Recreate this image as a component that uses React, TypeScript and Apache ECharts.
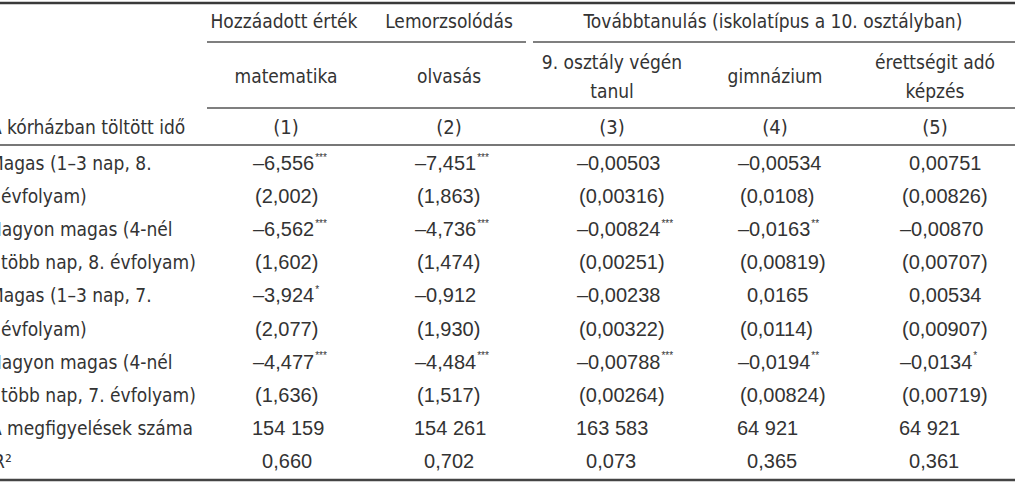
import React, { useEffect, useRef } from "react";
import * as echarts from "echarts";

// ---------- data ----------
const groupHeaders = ["Hozzáadott érték", "Lemorzsolódás", "Továbbtanulás (iskolatípus a 10. osztályban)"];
const subHeaders = [["matematika"], ["olvasás"], ["9. osztály végén", "tanul"], ["gimnázium"], ["érettségit adó", "képzés"]];
const columnNumbers = ["(1)", "(2)", "(3)", "(4)", "(5)"];
const stubTitle = "A kórházban töltött idő";
const rowLabels = [
  ["Magas (1–3 nap, 8.", "évfolyam)"],
  ["Nagyon magas (4-nél", "több nap, 8. évfolyam)"],
  ["Magas (1–3 nap, 7.", "évfolyam)"],
  ["Nagyon magas (4-nél", "több nap, 7. évfolyam)"],
];
const coefficients = [
  ["–6,556", "–7,451", "–0,00503", "–0,00534", "0,00751"],
  ["–6,562", "–4,736", "–0,00824", "–0,0163", "–0,00870"],
  ["–3,924", "–0,912", "–0,00238", "0,0165", "0,00534"],
  ["–4,477", "–4,484", "–0,00788", "–0,0194", "–0,0134"],
];
const significance = [
  ["***", "***", "", "", ""],
  ["***", "***", "***", "**", ""],
  ["*", "", "", "", ""],
  ["***", "***", "***", "**", "*"],
];
const standardErrors = [
  ["(2,002)", "(1,863)", "(0,00316)", "(0,0108)", "(0,00826)"],
  ["(1,602)", "(1,474)", "(0,00251)", "(0,00819)", "(0,00707)"],
  ["(2,077)", "(1,930)", "(0,00322)", "(0,0114)", "(0,00907)"],
  ["(1,636)", "(1,517)", "(0,00264)", "(0,00824)", "(0,00719)"],
];
const observationsLabel = "A megfigyelések száma";
const observations = ["154 159", "154 261", "163 583", "64 921", "64 921"];
const rSquaredLabel = "R²";
const rSquared = ["0,660", "0,702", "0,073", "0,365", "0,361"];

// ---------- layout ----------
const W = 1015;
const H = 485;
const LABEL_FONT = "'DejaVu Sans Condensed', 'Liberation Sans Narrow', sans-serif";
const NUM_FONT = "'Liberation Sans', Arial, sans-serif";
const LABEL_SIZE = 19;
const NUM_SIZE = 20;
const TEXT_COLOR = "#333";
const colCenters = [286, 449, 612, 775, 935];
const colLeft = [253, 415, 577, 738, 900];
const groupCenters = [284, 449, 773];
const row1Y = 21;
const row2Y = 76;
const row2LineGap = 29;
const row3Y = 127;
const firstDataY = 163;
const dataStep = 33.1;

function measure(text: string, size: number) {
  const c = document.createElement("canvas").getContext("2d");
  if (!c) return text.length * size * 0.5;
  c.font = `${size}px ${NUM_FONT}`;
  return c.measureText(text).width;
}

function App() {
  const ref = useRef<HTMLDivElement>(null);
  useEffect(() => {
    document.body.style.margin = "0";
    if (!ref.current) return;
    const chart = echarts.init(ref.current, undefined, { renderer: "svg" });
    const dashW = measure("–", NUM_SIZE);
    const els: any[] = [];

    const txt = (text: string, x: number, y: number, align: string, size = LABEL_SIZE) => {
      els.push({
        type: "text",
        x,
        y,
        style: {
          text,
          fontSize: size,
          fontFamily: LABEL_FONT,
          fill: TEXT_COLOR,
          textAlign: align,
          textVerticalAlign: "middle",
        },
      });
    };
    const hline = (y: number, x1: number, x2: number, w: number, color: string) => {
      els.push({
        type: "line",
        shape: { x1, y1: y, x2, y2: y },
        style: { stroke: color, lineWidth: w },
      });
    };
    const cellX = (col: number, v: string) => {
      const c0 = v.charAt(0);
      if (c0 === "–") return colLeft[col];
      if (c0 === "(") return colLeft[col] + 2;
      if (v.indexOf(" ") >= 0) return colLeft[col] - 1;
      return colLeft[col] + dashW - 2;
    };
    const numCell = (col: number, v: string, y: number, sup = "") => {
      els.push({
        type: "text",
        x: cellX(col, v),
        y,
        style: {
          text: sup ? `{n|${v}}{s|${sup}}` : `{n|${v}}`,
          fontFamily: NUM_FONT,
          fill: TEXT_COLOR,
          textAlign: "left",
          textVerticalAlign: "middle",
          rich: {
            n: { fontSize: NUM_SIZE, fontFamily: NUM_FONT, fill: TEXT_COLOR, lineHeight: 22 },
            s: { fontSize: 10, fontFamily: NUM_FONT, fill: TEXT_COLOR, verticalAlign: "top", lineHeight: 22, padding: [0, 0, 0, 1] },
          },
        },
      });
    };

    // rules
    hline(3, 0, W, 2.5, "#3a3a3a");
    hline(42, 207, 526, 1.6, "#555");
    hline(42, 533, W, 1.6, "#555");
    hline(108, 207, W, 1.6, "#555");
    hline(145, 0, W, 2.2, "#777");
    hline(480, 0, W, 2.6, "#444");

    // header row 1
    groupHeaders.forEach((g, i) => txt(g, groupCenters[i], row1Y, "center"));
    // header row 2
    subHeaders.forEach((lines, i) => {
      const n = lines.length;
      lines.forEach((l, j) => txt(l, colCenters[i], row2Y + (j - (n - 1) / 2) * row2LineGap, "center"));
    });
    // header row 3
    txt(stubTitle, -10, row3Y, "left");
    columnNumbers.forEach((c, i) => txt(c, colCenters[i], row3Y, "center", NUM_SIZE));

    // data rows
    rowLabels.forEach((lab, r) => {
      const yA = firstDataY + dataStep * (2 * r);
      const yB = firstDataY + dataStep * (2 * r + 1);
      txt(lab[0], -11, yA, "left");
      txt(lab[1], 1, yB, "left");
      coefficients[r].forEach((v, c) => numCell(c, v, yA, significance[r][c]));
      standardErrors[r].forEach((v, c) => numCell(c, v, yB));
    });
    const yObs = firstDataY + dataStep * 8;
    const yR2 = firstDataY + dataStep * 9;
    txt(observationsLabel, -10, yObs, "left");
    observations.forEach((v, c) => numCell(c, v, yObs));
    txt(rSquaredLabel, -7, yR2, "left");
    rSquared.forEach((v, c) => numCell(c, v, yR2));

    chart.setOption({
      animation: false,
      backgroundColor: "#ffffff",
      graphic: { elements: els },
    });
    return () => chart.dispose();
  }, []);
  return <div ref={ref} style={{ width: W, height: H, position: "absolute", left: 0, top: 0 }} />;
}

export default App;
